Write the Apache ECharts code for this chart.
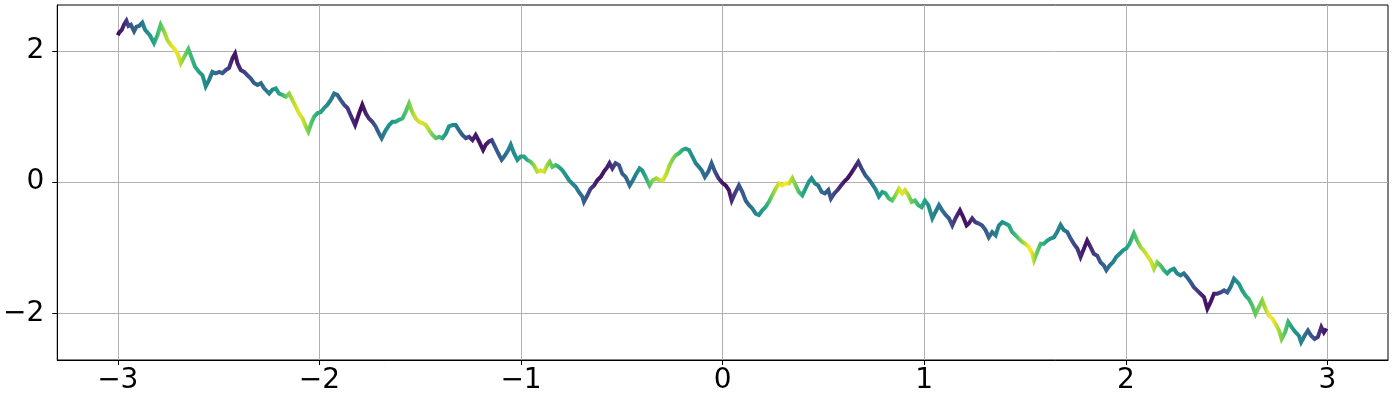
<!DOCTYPE html>
<html>
<head>
<meta charset="utf-8">
<script src="https://cdn.jsdelivr.net/npm/echarts@6/dist/echarts.min.js"></script>
<style>
  html, body { margin: 0; padding: 0; background: #fff; }
  #chart { width: 1400px; height: 400px; }
</style>
</head>
<body>
<div id="chart"></div>
<script>
// curve: x, y and the colour shade (0 = purple .. 1 = yellow)
const xs = [
  -3.000,-2.993,-2.980,-2.969,-2.957,-2.947,-2.935,-2.919,-2.907,-2.894,-2.878,-2.864,-2.841,-2.820,-2.803,-2.787,-2.770,-2.754,-2.737,-2.721,
  -2.704,-2.688,-2.671,-2.650,-2.633,-2.617,-2.597,-2.580,-2.564,-2.547,-2.531,-2.514,-2.497,-2.481,-2.464,-2.448,-2.431,-2.418,-2.406,-2.390,
  -2.373,-2.357,-2.340,-2.324,-2.307,-2.290,-2.274,-2.249,-2.233,-2.216,-2.200,-2.183,-2.166,-2.150,-2.133,-2.117,
  -2.101,-2.084,-2.068,-2.055,-2.038,-2.026,-2.010,-1.993,-1.977,-1.960,-1.944,-1.927,-1.911,-1.894,-1.878,-1.861,-1.845,-1.823,-1.803,-1.787,
  -1.770,-1.754,-1.737,-1.721,-1.704,-1.691,-1.671,-1.654,-1.638,-1.621,-1.605,-1.588,-1.572,-1.555,-1.539,-1.522,-1.505,-1.489,-1.472,-1.456,
  -1.439,-1.423,-1.406,-1.390,-1.373,-1.357,-1.340,-1.324,-1.307,-1.291,-1.274,-1.258,-1.241,-1.225,-1.208,-1.188,
  -1.175,-1.159,-1.145,-1.129,-1.113,-1.096,-1.079,-1.063,-1.051,-1.035,-1.018,-1.002,-0.985,-0.969,-0.952,-0.936,-0.919,-0.903,-0.886,-0.870,
  -0.858,-0.845,-0.828,-0.812,-0.795,-0.779,-0.762,-0.746,-0.729,-0.713,-0.696,-0.688,-0.671,-0.655,-0.638,-0.622,-0.605,-0.589,-0.572,-0.561,
  -0.547,-0.531,-0.514,-0.498,-0.481,-0.461,-0.445,-0.428,-0.412,-0.399,-0.382,-0.362,-0.346,-0.329,-0.313,-0.296,-0.279,-0.263,-0.246,
  -0.233,-0.217,-0.200,-0.184,-0.167,-0.150,-0.134,-0.117,-0.104,-0.088,-0.071,-0.055,-0.038,-0.021,-0.002,0.015,0.031,0.045,0.061,0.081,
  0.098,0.114,0.131,0.147,0.164,0.180,0.197,0.213,0.230,0.246,0.263,0.279,0.296,0.312,0.329,0.345,0.362,0.378,0.395,0.411,
  0.428,0.441,0.458,0.474,0.491,0.507,0.524,0.537,0.554,0.570,0.587,0.603,0.620,0.636,0.653,0.673,0.689,0.709,0.726,0.742,0.759,
  0.775,0.792,0.808,0.825,0.841,0.858,0.875,0.891,0.904,0.921,0.937,0.954,0.970,0.987,1.003,1.020,1.040,1.056,1.073,1.089,
  1.106,1.122,1.139,1.155,1.177,1.193,1.210,1.221,1.238,1.254,1.271,1.287,1.304,1.320,1.337,1.354,1.370,1.387,1.403,1.420,
  1.436,1.453,1.469,1.486,1.502,1.519,1.535,1.544,1.560,1.577,1.593,1.610,1.626,1.643,1.659,
  1.676,1.692,1.709,1.726,1.742,1.759,1.775,1.792,1.808,1.825,1.841,1.858,1.874,1.891,1.903,1.919,1.936,1.952,1.969,1.986,
  2.002,2.018,2.040,2.056,2.073,2.089,2.106,2.122,2.139,2.155,2.172,2.188,2.205,2.221,2.238,2.254,2.271,2.287,2.304,2.320,2.337,2.353,
  2.370,2.387,2.404,2.420,2.437,2.453,2.470,2.487,2.503,2.519,2.536,2.544,2.561,2.577,2.594,2.610,2.627,2.643,2.660,2.676,
  2.693,2.709,2.726,2.742,2.759,2.772,2.789,2.805,2.822,2.842,2.858,2.869,2.886,2.903,2.919,2.936,2.952,2.969,2.982,2.995
];
const ys = [
  2.24,2.28,2.32,2.40,2.46,2.38,2.40,2.30,2.37,2.38,2.43,2.32,2.24,2.12,2.24,2.40,2.30,2.17,2.09,2.04,
  1.96,1.81,1.91,2.03,1.89,1.76,1.68,1.63,1.46,1.56,1.68,1.66,1.68,1.66,1.71,1.74,1.89,1.96,1.81,1.71,
  1.68,1.63,1.58,1.51,1.48,1.51,1.43,1.35,1.41,1.43,1.35,1.33,1.30,1.35,1.25,1.15,
  1.05,0.97,0.85,0.77,0.92,1.00,1.05,1.07,1.13,1.18,1.25,1.35,1.33,1.25,1.18,1.13,1.02,0.87,1.05,1.18,
  1.05,0.97,0.92,0.85,0.74,0.67,0.79,0.87,0.92,0.92,0.95,0.97,1.07,1.20,1.07,0.97,0.92,0.90,0.87,0.79,
  0.72,0.67,0.69,0.67,0.74,0.85,0.87,0.87,0.79,0.72,0.67,0.69,0.64,0.72,0.62,0.49,
  0.57,0.62,0.64,0.54,0.44,0.34,0.41,0.49,0.57,0.44,0.34,0.39,0.39,0.34,0.31,0.26,0.16,0.18,0.16,0.26,
  0.31,0.23,0.26,0.23,0.18,0.11,0.03,-0.02,-0.07,-0.15,-0.22,-0.30,-0.20,-0.10,-0.05,0.03,0.08,0.16,0.23,0.29,
  0.21,0.29,0.26,0.13,0.08,-0.05,0.03,0.13,0.21,0.18,0.08,-0.05,0.03,0.06,0.03,0.03,0.13,0.26,0.36,
  0.41,0.44,0.49,0.51,0.49,0.39,0.29,0.23,0.18,0.08,0.16,0.29,0.16,0.06,-0.01,-0.05,-0.12,-0.28,-0.17,-0.05,
  -0.15,-0.28,-0.35,-0.40,-0.48,-0.50,-0.43,-0.38,-0.30,-0.20,-0.10,-0.02,-0.05,-0.02,-0.02,0.06,-0.05,-0.15,-0.20,-0.10,
  0.01,0.06,-0.02,-0.05,-0.15,-0.17,-0.12,-0.25,-0.17,-0.12,-0.05,0.01,0.06,0.13,0.21,0.31,0.21,0.10,0.04,-0.03,-0.11,
  -0.22,-0.15,-0.17,-0.25,-0.28,-0.20,-0.10,-0.17,-0.12,-0.20,-0.30,-0.28,-0.35,-0.38,-0.28,-0.35,-0.55,-0.45,-0.35,-0.43,
  -0.50,-0.55,-0.66,-0.55,-0.43,-0.53,-0.66,-0.63,-0.55,-0.61,-0.63,-0.66,-0.73,-0.84,-0.76,-0.81,-0.66,-0.61,-0.63,-0.66,
  -0.76,-0.81,-0.86,-0.91,-0.94,-0.99,-1.09,-1.19,-1.06,-0.94,-0.94,-0.89,-0.86,-0.84,-0.76,
  -0.65,-0.73,-0.76,-0.86,-0.94,-1.01,-1.14,-1.01,-0.89,-0.99,-1.09,-1.12,-1.22,-1.27,-1.34,-1.27,-1.22,-1.14,-1.09,-1.04,
  -1.01,-0.94,-0.78,-0.89,-0.99,-1.04,-1.12,-1.19,-1.32,-1.22,-1.27,-1.34,-1.39,-1.34,-1.32,-1.39,-1.42,-1.39,-1.45,-1.52,-1.60,-1.65,
  -1.70,-1.75,-1.93,-1.83,-1.70,-1.70,-1.68,-1.65,-1.68,-1.60,-1.47,-1.44,-1.55,-1.65,-1.73,-1.78,-1.88,-2.01,-1.90,-1.80,
  -1.93,-2.03,-2.08,-2.16,-2.26,-2.39,-2.29,-2.13,-2.21,-2.29,-2.34,-2.44,-2.34,-2.26,-2.34,-2.39,-2.36,-2.21,-2.29,-2.23
];
const shade = [
  0.00,0.02,0.05,0.08,0.10,0.15,0.22,0.27,0.30,0.32,0.35,0.42,0.50,0.55,0.62,0.70,0.75,0.85,0.90,0.95,
  0.98,0.95,0.85,0.75,0.70,0.65,0.60,0.55,0.50,0.45,0.40,0.37,0.35,0.30,0.25,0.20,0.12,0.05,0.05,0.10,
  0.15,0.20,0.25,0.28,0.30,0.33,0.35,0.42,0.45,0.50,0.55,0.62,0.70,0.80,0.85,0.90,
  0.95,0.95,0.90,0.82,0.75,0.70,0.65,0.60,0.55,0.50,0.45,0.40,0.35,0.30,0.27,0.20,0.15,0.10,0.05,0.02,
  0.08,0.12,0.18,0.25,0.30,0.35,0.42,0.50,0.52,0.55,0.60,0.65,0.70,0.75,0.82,0.90,0.93,0.95,0.93,0.90,
  0.80,0.75,0.70,0.65,0.55,0.52,0.50,0.45,0.35,0.30,0.25,0.20,0.10,0.08,0.05,0.05,
  0.05,0.10,0.15,0.25,0.28,0.30,0.35,0.40,0.45,0.48,0.50,0.55,0.57,0.60,0.72,0.80,0.90,0.93,0.95,0.85,
  0.80,0.75,0.70,0.62,0.55,0.52,0.50,0.47,0.45,0.40,0.35,0.30,0.25,0.20,0.12,0.05,0.05,0.05,0.08,0.10,
  0.15,0.20,0.25,0.30,0.32,0.35,0.40,0.45,0.50,0.52,0.60,0.72,0.80,0.85,0.90,0.95,0.90,0.85,0.80,
  0.75,0.70,0.62,0.57,0.53,0.50,0.45,0.40,0.37,0.35,0.32,0.30,0.25,0.15,0.05,0.05,0.05,0.12,0.18,0.25,
  0.28,0.30,0.35,0.40,0.45,0.50,0.55,0.60,0.70,0.80,0.88,0.95,0.98,1.00,0.92,0.85,0.78,0.70,0.60,0.55,
  0.52,0.50,0.45,0.40,0.35,0.30,0.27,0.25,0.20,0.15,0.10,0.05,0.05,0.05,0.10,0.15,0.22,0.30,0.35,0.42,0.48,
  0.52,0.58,0.62,0.70,0.75,0.85,0.95,0.95,0.92,0.82,0.75,0.70,0.65,0.60,0.55,0.50,0.45,0.42,0.40,0.35,
  0.30,0.25,0.20,0.12,0.05,0.05,0.05,0.08,0.15,0.20,0.25,0.28,0.30,0.35,0.40,0.45,0.47,0.50,0.55,0.60,
  0.65,0.70,0.78,0.85,0.95,1.00,0.90,0.80,0.72,0.65,0.60,0.55,0.50,0.47,0.45,
  0.42,0.38,0.30,0.25,0.20,0.15,0.08,0.05,0.08,0.15,0.20,0.25,0.30,0.33,0.35,0.40,0.45,0.48,0.50,0.55,
  0.60,0.65,0.72,0.80,0.88,0.92,0.95,0.90,0.85,0.75,0.68,0.60,0.57,0.50,0.48,0.45,0.40,0.35,0.30,0.25,0.20,0.15,
  0.10,0.05,0.05,0.05,0.12,0.18,0.25,0.30,0.35,0.42,0.48,0.50,0.55,0.60,0.65,0.70,0.75,0.78,0.80,0.85,
  0.95,1.00,0.95,0.88,0.80,0.75,0.68,0.60,0.52,0.48,0.45,0.40,0.32,0.28,0.25,0.18,0.12,0.08,0.05,0.00
];
const xTicks = [-3, -2, -1, 0, 1, 2, 3];
const yTicks = [-2, 0, 2];

const viridis = ['#440154','#472d7b','#3b528b','#2c728e','#21918c','#28ae80','#5ec962','#addc30','#fde725'];

function hexRgb(h) {
  return [parseInt(h.slice(1,3),16), parseInt(h.slice(3,5),16), parseInt(h.slice(5,7),16)];
}
function shadeColor(t) {
  t = Math.max(0, Math.min(1, t));
  const pos = t * (viridis.length - 1);
  const i = Math.min(Math.floor(pos), viridis.length - 2);
  const f = pos - i;
  const a = hexRgb(viridis[i]), b = hexRgb(viridis[i+1]);
  const c = a.map((v,k)=>Math.round(v + (b[k]-v)*f));
  return 'rgb(' + c.join(',') + ')';
}

const x0 = xs[0], x1 = xs[xs.length-1];
const stops = xs.map((x,i)=>({ offset: (x - x0)/(x1 - x0), color: shadeColor(shade[i]) }));
const lineData = xs.map((x,i)=>[x, ys[i]]);

const minus = v => String(v).replace('-', '\u2212');
const tickFont = { fontSize: 28, color: '#000', fontFamily: 'DejaVu Sans' };

let myChart = echarts.init(document.getElementById('chart'), null, { renderer: 'canvas' });
myChart.setOption({
  animation: false,
  grid: {
    left: 57, right: 12, top: 5, bottom: 40,
    show: true, borderColor: '#000', borderWidth: 1
  },
  xAxis: {
    type: 'value',
    min: -3.3, max: 3.3,
    axisLine: { show: true, onZero: false, lineStyle: { color: '#000', width: 1 } },
    axisTick: { show: true, customValues: xTicks, length: 5, lineStyle: { color: '#000' } },
    axisLabel: Object.assign({ customValues: xTicks, margin: 7, formatter: minus }, tickFont),
    splitLine: { show: true, lineStyle: { color: '#b0b0b0', width: 1 } }
  },
  yAxis: {
    type: 'value',
    min: -2.71, max: 2.70,
    axisLine: { show: true, onZero: false, lineStyle: { color: '#000', width: 1 } },
    axisTick: { show: true, customValues: yTicks, length: 5, lineStyle: { color: '#000' } },
    axisLabel: Object.assign({ customValues: yTicks, margin: 13, formatter: minus }, tickFont),
    splitLine: { show: true, lineStyle: { color: '#b0b0b0', width: 1 } }
  },
  series: [
    {
      type: 'line',
      data: lineData,
      showSymbol: false,
      smooth: false,
      lineStyle: {
        width: 4,
        join: 'miter',
        color: new echarts.graphic.LinearGradient(0, 0, 1, 0, stops)
      }
    }
  ]
});
</script>
</body>
</html>
